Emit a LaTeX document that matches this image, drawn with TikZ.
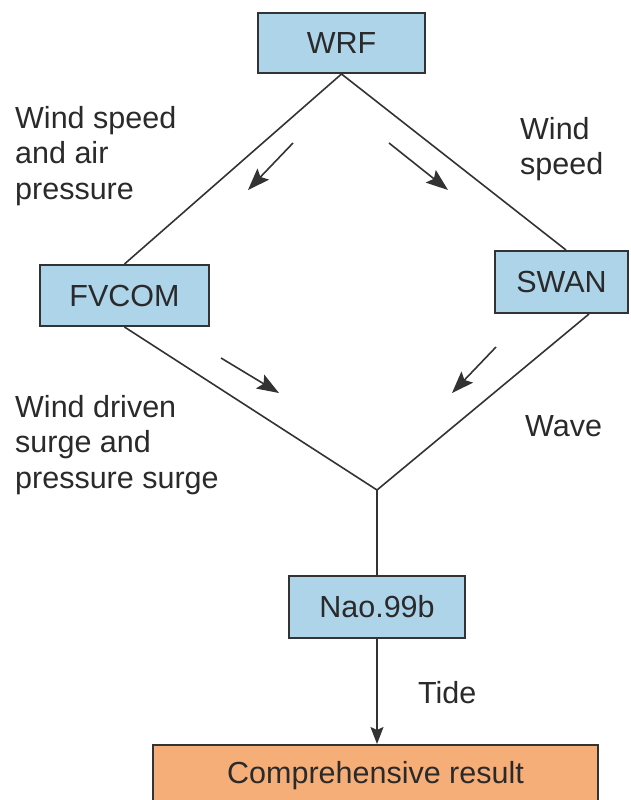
\documentclass[tikz,border=0pt]{standalone}
\usepackage{fontspec}
\setmainfont{Liberation Sans}
\usetikzlibrary{arrows.meta}
\definecolor{boxblue}{HTML}{AED4EA}
\definecolor{boxorange}{HTML}{F6AE78}
\definecolor{ink}{HTML}{2A2A2A}
\definecolor{edge}{HTML}{333333}
\tikzset{
  box/.style={draw=edge, line width=2pt, fill=boxblue, inner sep=0pt,
    text=ink, font=\fontsize{30.5}{36}\selectfont},
  resultbox/.style={box, fill=boxorange},
  conn/.style={draw=edge, line width=1.6pt},
  flow/.style={draw=edge, line width=1.6pt, -{Stealth[length=22pt,width=16pt,inset=4pt]}},
  mainarrow/.style={draw=edge, line width=1.6pt, -{Stealth[length=17pt,width=13pt,inset=3pt]}},
  lbl/.style={inner sep=0pt, text=ink, align=left, anchor=north west,
    font=\fontsize{30.5}{35.5}\selectfont},
}
\begin{document}
\begin{tikzpicture}[x=1pt,y=-1pt]
\useasboundingbox (0,0) rectangle (630,800);
\fill[white] (0,0) rectangle (630,800);
% boxes
\node[box, minimum width=167pt, minimum height=60pt] (wrf) at (341.5,43) {WRF};
\node[box, minimum width=169pt, minimum height=61pt] (fvcom) at (124.5,295.5) {FVCOM};
\node[box, minimum width=133pt, minimum height=62pt] (swan) at (561.5,282) {SWAN};
\node[box, minimum width=176pt, minimum height=62pt] (nao) at (377,607) {Nao.99b};
\node[resultbox, minimum width=445pt, minimum height=62pt, anchor=north] (res) at (375.5,744) {};
\node[inner sep=0pt, text=ink, font=\fontsize{30.5}{36}\selectfont] (restext) at (375.5,776) {Comprehensive result};
% diamond
\coordinate (v) at (377,490);
\draw[conn] (wrf.south) -- (fvcom.north);
\draw[conn] (wrf.south) -- ([xshift=4.5pt]swan.north);
\draw[conn] (fvcom.south) -- (v);
\draw[conn] ([xshift=27.5pt]swan.south) -- (v);
\draw[conn] (v) -- (nao.north);
\draw[mainarrow] (nao.south) -- (nao.south |- res.north);
% flow arrows
\coordinate (a1s) at (293,143); \coordinate (a1e) at (248,190);
\coordinate (a2s) at (389,143); \coordinate (a2e) at (448,190);
\coordinate (a3s) at (221,358); \coordinate (a3e) at (279,393);
\coordinate (a4s) at (496,347); \coordinate (a4e) at (452,393);
\draw[flow] (a1s) -- (a1e);
\draw[flow] (a2s) -- (a2e);
\draw[flow] (a3s) -- (a3e);
\draw[flow] (a4s) -- (a4e);
% labels
\node[lbl] (l1) at (15,106) {Wind speed\\and air\\pressure};
\node[lbl] (l2) at (520,117) {Wind\\speed};
\node[lbl] (l3) at (15,395) {Wind driven\\surge and\\pressure surge};
\node[lbl] (l4) at (525,415) {Wave};
\node[lbl] (l5) at (418,681) {Tide};
\end{tikzpicture}
\end{document}
